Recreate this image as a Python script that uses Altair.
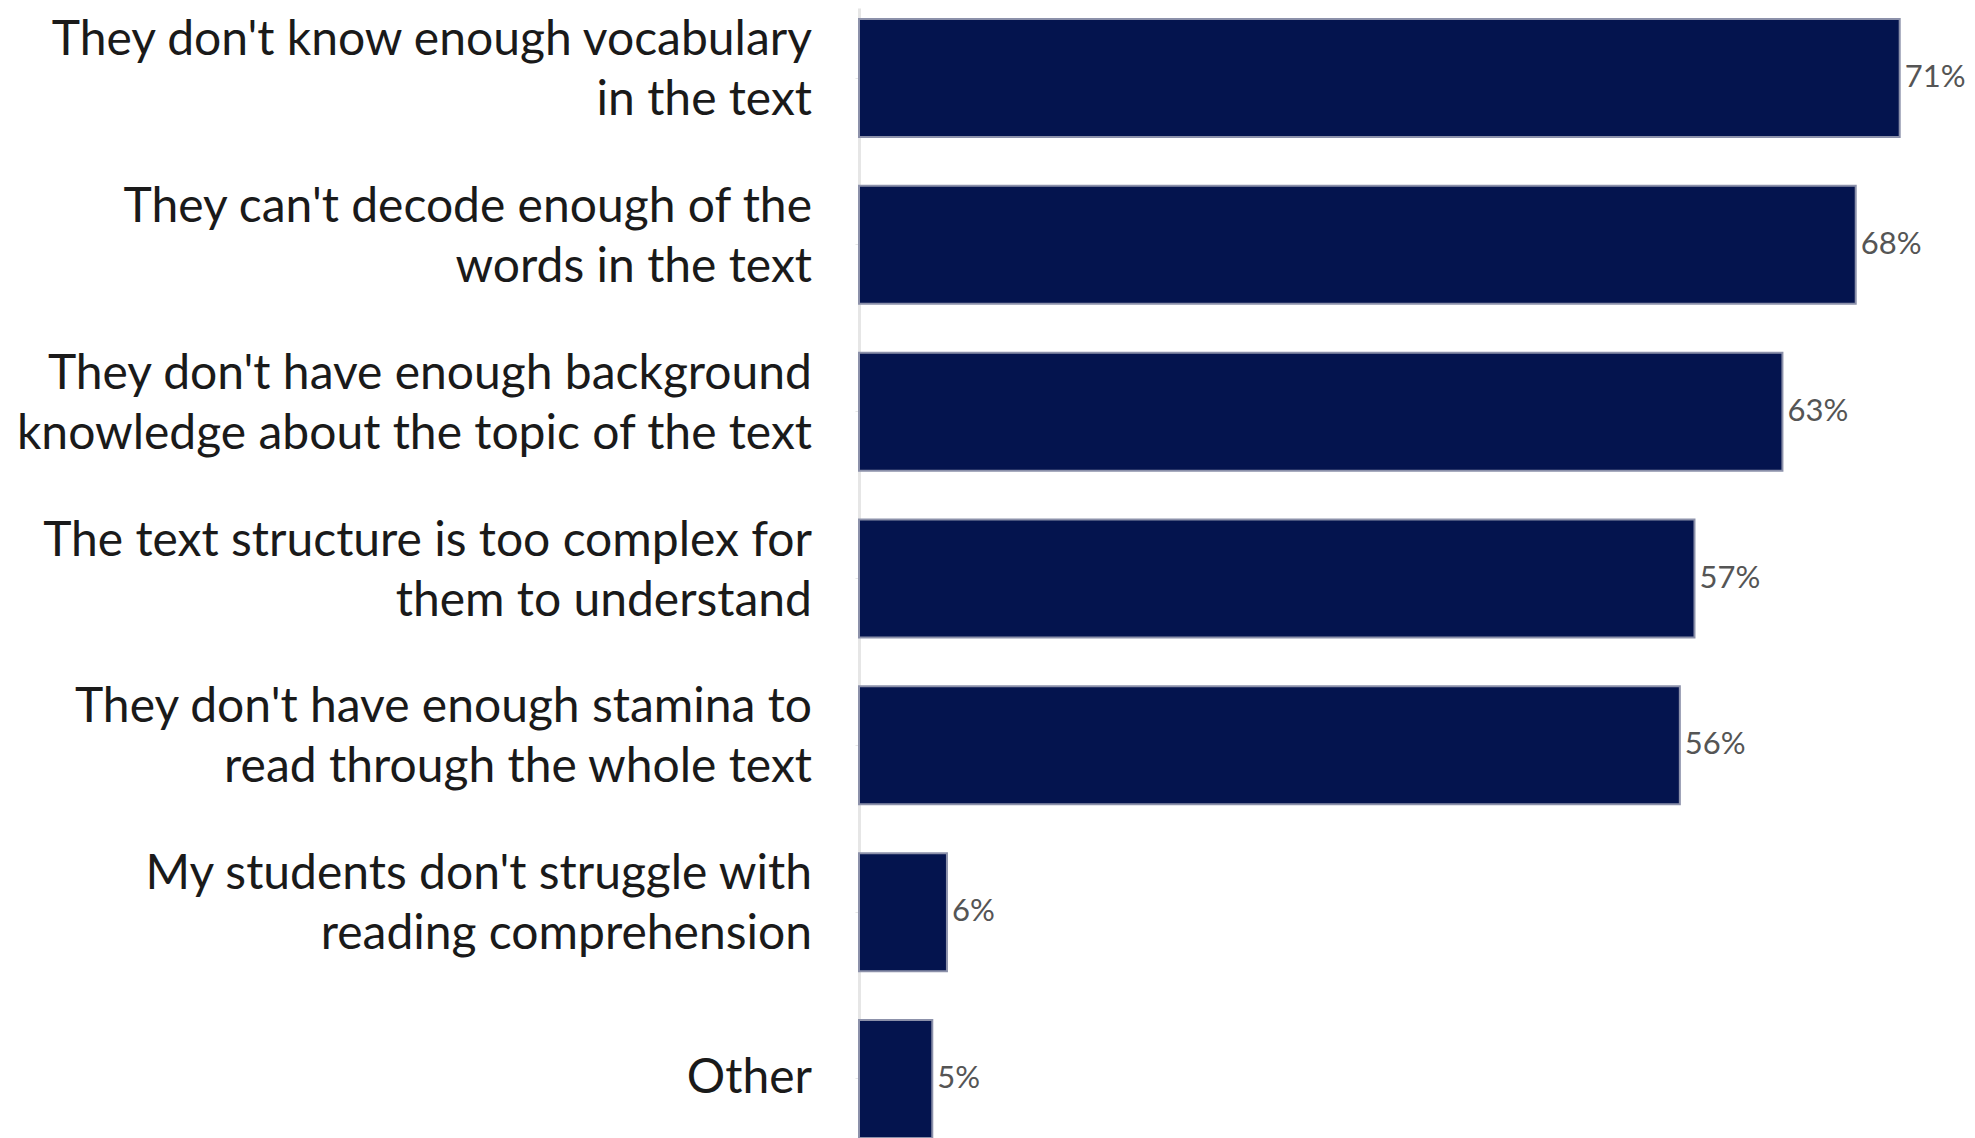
import altair as alt
import pandas as pd

categories = [
    "They don't know enough vocabulary in the text",
    "They can't decode enough of the words in the text",
    "They don't have enough background knowledge about the topic of the text",
    "The text structure is too complex for them to understand",
    "They don't have enough stamina to read through the whole text",
    "My students don't struggle with reading comprehension",
    "Other",
]
label_line1 = [
    "They don't know enough vocabulary",
    "They can't decode enough of the",
    "They don't have enough background",
    "The text structure is too complex for",
    "They don't have enough stamina to",
    "My students don't struggle with",
    "",
]
label_line2 = [
    "in the text",
    "words in the text",
    "knowledge about the topic of the text",
    "them to understand",
    "read through the whole text",
    "reading comprehension",
    "",
]
label_single = ["", "", "", "", "", "", "Other"]
values = [71, 68, 63, 57, 56, 6, 5]
value_labels = ["71%", "68%", "63%", "57%", "56%", "6%", "5%"]

df = pd.DataFrame({
    "cat": categories,
    "val": values,
    "lab": value_labels,
    "l1": label_line1,
    "l2": label_line2,
    "ls": label_single,
})

y_enc = alt.Y(
    "cat:N",
    sort=categories,
    title=None,
    scale=alt.Scale(paddingInner=0.2926, paddingOuter=0.066),
    axis=alt.Axis(
        labels=False,
        tickSize=4,
        tickColor="#e6e6e6",
        domainColor="#e6e6e6",
        domainWidth=3,
    ),
)
y_plain = alt.Y("cat:N", sort=categories)

x_enc = alt.X("val:Q", scale=alt.Scale(domain=[0, 74.5]), axis=None, title=None)

bars = alt.Chart(df).mark_bar(
    color="#04144e", stroke="#8c91aa", strokeWidth=2
).encode(x=x_enc, y=y_enc)

values_text = alt.Chart(df).mark_text(
    align="left", baseline="middle", dx=5, font="Lato", fontSize=31, color="#555555"
).encode(x=x_enc, y=y_plain, text="lab:N")

label_font = dict(font="Lato", fontSize=48, color="#1a1a1a", align="right", baseline="middle")

lab1 = alt.Chart(df).mark_text(dy=-37, **label_font).encode(
    x=alt.value(-47), y=y_plain, text="l1:N"
)
lab2 = alt.Chart(df).mark_text(dy=23, **label_font).encode(
    x=alt.value(-47), y=y_plain, text="l2:N"
)
labs = alt.Chart(df).mark_text(dy=0, **label_font).encode(
    x=alt.value(-47), y=y_plain, text="ls:N"
)

chart = (
    alt.layer(bars, values_text, lab1, lab2, labs)
    .properties(
        width=1092,
        height=1141,
        background="white",
        autosize=alt.AutoSizeParams(type="none"),
        padding={"left": 851, "top": 0, "right": 16, "bottom": 0},
    )
    .configure_view(stroke=None)
)

chart.save("out.html", embed_options={"renderer": "svg", "actions": False})
